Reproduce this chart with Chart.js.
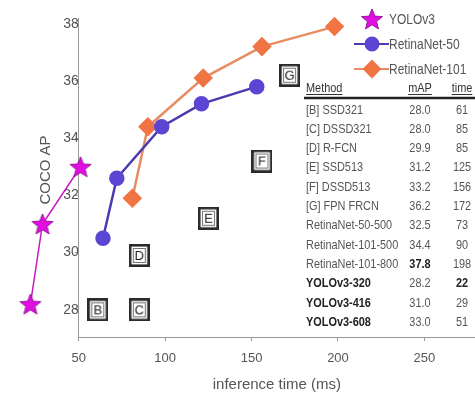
<!DOCTYPE html>
<html>
<head>
<meta charset="utf-8">
<script src="https://cdn.jsdelivr.net/npm/chart.js@4.4.1/dist/chart.umd.min.js"></script>
<style>
  html, body { margin: 0; padding: 0; background: #fff; }
  #wrap { width: 475px; height: 401px; }
</style>
</head>
<body>
<div id="wrap"><canvas id="speedChart" width="475" height="401"></canvas></div>
<script>
// values
const xTicks = [50, 100, 150, 200, 250];
const yTicks = [28, 30, 32, 34, 36, 38];
const xTitle = "inference time (ms)";
const yTitle = "COCO AP";

const yoloTime = [22, 29, 51];
const yoloAP = [28.2, 31.0, 33.0];

const rn50Time = [64, 72, 98, 121, 153];
const rn50AP = [30.5, 32.6, 34.4, 35.2, 35.8];

const rn101Time = [81, 90, 122, 156, 198];
const rn101AP = [31.9, 34.4, 36.1, 37.2, 37.9];

const otherLetters = ["B", "C", "D", "E", "F", "G"];
const otherTime = [61, 85, 85, 125, 156, 172];
const otherAP = [28.0, 28.0, 29.9, 31.2, 33.2, 36.2];

const tableMethods = [
    "[B] SSD321", "[C] DSSD321", "[D] R-FCN", "[E] SSD513", "[F] DSSD513",
    "[G] FPN FRCN", "RetinaNet-50-500", "RetinaNet-101-500", "RetinaNet-101-800",
    "YOLOv3-320", "YOLOv3-416", "YOLOv3-608",
];
const tableAP = ["28.0", "28.0", "29.9", "31.2", "33.2", "36.2", "32.5", "34.4", "37.8", "28.2", "31.0", "33.0"];
const tableTime = ["61", "85", "85", "125", "156", "172", "73", "90", "198", "22", "29", "51"];

const toPoints = (xs, ys) => xs.map((x, i) => ({ x: x, y: ys[i] }));
const fontFamily = "'Liberation Sans', Arial, sans-serif";

// 5 point star marker for YOLOv3
function makeStar() {
    const c = document.createElement("canvas");
    c.width = 24;
    c.height = 24;
    const g = c.getContext("2d");
    g.beginPath();
    for (let i = 0; i < 10; i++) {
        const r = i % 2 === 0 ? 11 : 4.8;
        const a = -Math.PI / 2 + (i * Math.PI) / 5;
        g.lineTo(12 + r * Math.cos(a), 13 + r * Math.sin(a));
    }
    g.closePath();
    g.fillStyle = "#e00ee0";
    g.fill();
    g.strokeStyle = "#9a129a";
    g.lineWidth = 1;
    g.stroke();
    return c;
}

// boxed letter marker for the other detectors
function makeBox(letter) {
    const c = document.createElement("canvas");
    c.width = 21;
    c.height = 23;
    const g = c.getContext("2d");
    g.fillStyle = "#fff";
    g.fillRect(0, 0, 21, 23);
    g.strokeStyle = "#2a2a2a";
    g.lineWidth = 2.6;
    g.strokeRect(1.3, 1.3, 18.4, 20.4);
    g.strokeStyle = "#777";
    g.lineWidth = 1;
    g.strokeRect(4.5, 4.5, 12, 14);
    g.fillStyle = "#222";
    g.font = "13px " + fontFamily;
    g.textAlign = "center";
    g.textBaseline = "middle";
    g.fillText(letter, 10.5, 12);
    return c;
}

const starImg = makeStar();
const boxImgs = otherLetters.map(makeBox);

function narrowText(ctx, text, x, y, align, sx) {
    ctx.save();
    ctx.translate(x, y);
    ctx.scale(sx, 1);
    ctx.textAlign = align;
    ctx.fillText(text, 0, 0);
    ctx.restore();
    return ctx.measureText(text).width * sx;
}

// x axis line (starting at 50) and axis titles, under the marks
const axisPlugin = {
    id: "axisExtras",
    beforeDatasetsDraw(chart) {
        const ctx = chart.ctx;
        const xs = chart.scales.x;
        const area = chart.chartArea;
        const x0 = xs.getPixelForValue(xTicks[0]);
        ctx.save();
        ctx.strokeStyle = "#9a9a9a";
        ctx.lineWidth = 1;
        ctx.beginPath();
        ctx.moveTo(x0, area.bottom + 0.5);
        ctx.lineTo(chart.width, area.bottom + 0.5);
        ctx.stroke();

        ctx.fillStyle = "#555";
        ctx.font = "15px " + fontFamily;
        ctx.textAlign = "center";
        ctx.textBaseline = "middle";
        ctx.fillText(xTitle, (x0 + chart.width) / 2, 385);

        ctx.translate(46, 170);
        ctx.rotate(-Math.PI / 2);
        ctx.fillText(yTitle, 0, 0);
        ctx.restore();
    },
};

// legend and method table drawn on top
const overlayPlugin = {
    id: "overlay",
    afterDraw(chart) {
        const ctx = chart.ctx;
        ctx.save();
        ctx.textBaseline = "middle";

        // legend
        [0, 1, 2].forEach((di, i) => {
            const ds = chart.data.datasets[di];
            const y = 19 + i * 25;
            if (di !== 0) {
                ctx.strokeStyle = ds.borderColor;
                ctx.lineWidth = 2;
                ctx.beginPath();
                ctx.moveTo(354, y);
                ctx.lineTo(389, y);
                ctx.stroke();
            }
            ctx.fillStyle = ds.pointBackgroundColor;
            ctx.strokeStyle = ds.pointBorderColor;
            Chart.helpers.drawPoint(ctx, {
                pointStyle: ds.pointStyle,
                radius: ds.pointRadius,
                rotation: 0,
                borderWidth: 1,
            }, 372, y);
            ctx.fillStyle = "#555";
            ctx.font = "15px " + fontFamily;
            narrowText(ctx, ds.label, 389, y + 1, "left", 0.8);
        });

        // table
        const colM = 306, colAP = 420, colT = 462;
        ctx.fillStyle = "#333";
        ctx.font = "13px " + fontFamily;
        const headY = 88;
        const w1 = narrowText(ctx, "Method", colM, headY, "left", 0.84);
        const w2 = narrowText(ctx, "mAP", colAP, headY, "center", 0.84);
        const w3 = narrowText(ctx, "time", colT, headY, "center", 0.84);
        ctx.strokeStyle = "#333";
        ctx.lineWidth = 1;
        ctx.beginPath();
        ctx.moveTo(colM, 94.5); ctx.lineTo(colM + w1, 94.5);
        ctx.moveTo(colAP - w2 / 2, 94.5); ctx.lineTo(colAP + w2 / 2, 94.5);
        ctx.moveTo(colT - w3 / 2, 94.5); ctx.lineTo(colT + w3 / 2, 94.5);
        ctx.stroke();
        ctx.strokeStyle = "#222";
        ctx.lineWidth = 2.5;
        ctx.beginPath();
        ctx.moveTo(304, 98);
        ctx.lineTo(475, 98);
        ctx.stroke();

        tableMethods.forEach((m, i) => {
            const y = 110 + i * 19.3;
            const yolo = m.indexOf("YOLOv3") === 0;
            ctx.fillStyle = yolo ? "#222" : "#555";
            ctx.font = (yolo ? "bold " : "") + "13px " + fontFamily;
            narrowText(ctx, m, colM, y, "left", 0.84);
            ctx.fillStyle = i === 8 ? "#222" : "#555";
            ctx.font = (i === 8 ? "bold " : "") + "13px " + fontFamily;
            narrowText(ctx, tableAP[i], colAP, y, "center", 0.84);
            ctx.fillStyle = i === 9 ? "#222" : "#555";
            ctx.font = (i === 9 ? "bold " : "") + "13px " + fontFamily;
            narrowText(ctx, tableTime[i], colT, y, "center", 0.84);
        });
        ctx.restore();
    },
};

const axisGray = "#9a9a9a";

new Chart(document.getElementById("speedChart"), {
    type: "scatter",
    data: {
        datasets: [
            {
                label: "YOLOv3",
                data: toPoints(yoloTime, yoloAP),
                showLine: true,
                borderColor: "#c21cc2",
                borderWidth: 1.5,
                pointStyle: starImg,
                pointRadius: 11,
                pointBackgroundColor: "#e00ee0",
                pointBorderColor: "#9a129a",
                clip: false,
            },
            {
                label: "RetinaNet-50",
                data: toPoints(rn50Time, rn50AP),
                showLine: true,
                borderColor: "#4b3ab0",
                borderWidth: 2.5,
                pointStyle: "circle",
                pointRadius: 6.5,
                pointBackgroundColor: "#5a46d2",
                pointBorderColor: "#5a46d2",
                clip: false,
            },
            {
                label: "RetinaNet-101",
                data: toPoints(rn101Time, rn101AP),
                showLine: true,
                borderColor: "#e88c62",
                borderWidth: 2.5,
                pointStyle: "rectRot",
                pointRadius: 8,
                pointBackgroundColor: "#f07444",
                pointBorderColor: "#f07444",
                clip: false,
            },
            {
                label: "others",
                data: toPoints(otherTime, otherAP),
                showLine: false,
                pointStyle: boxImgs,
                pointRadius: 11,
                clip: false,
            },
        ],
    },
    options: {
        responsive: false,
        animation: false,
        devicePixelRatio: 1,
        layout: { autoPadding: false, padding: { top: 18, right: 0, left: 0, bottom: 0 } },
        plugins: {
            legend: { display: false },
            tooltip: { enabled: false },
        },
        scales: {
            x: {
                type: "linear",
                min: 4.4,
                max: 279.3,
                afterBuildTicks: (s) => { s.ticks = xTicks.map((v) => ({ value: v })); },
                afterFit: (s) => {
                    s.height = 64;
                    s.paddingLeft = 0;
                    s.paddingRight = 0;
                },
                grid: { drawOnChartArea: false, tickLength: 4, color: axisGray },
                border: { display: false },
                ticks: { font: { family: fontFamily, size: 13 }, color: "#555", padding: 10, maxRotation: 0 },
                title: { display: false },
            },
            y: {
                position: { x: 50 },
                min: 27.05,
                max: 38.2,
                afterBuildTicks: (s) => { s.ticks = yTicks.map((v) => ({ value: v })); },
                afterFit: (s) => {
                    s.paddingTop = 0;
                    s.paddingBottom = 0;
                },
                grid: { drawOnChartArea: false, tickLength: 3, color: axisGray },
                border: { color: axisGray },
                ticks: { font: { family: fontFamily, size: 14 }, color: "#555", padding: 3 },
            },
        },
    },
    plugins: [axisPlugin, overlayPlugin],
});
</script>
</body>
</html>
